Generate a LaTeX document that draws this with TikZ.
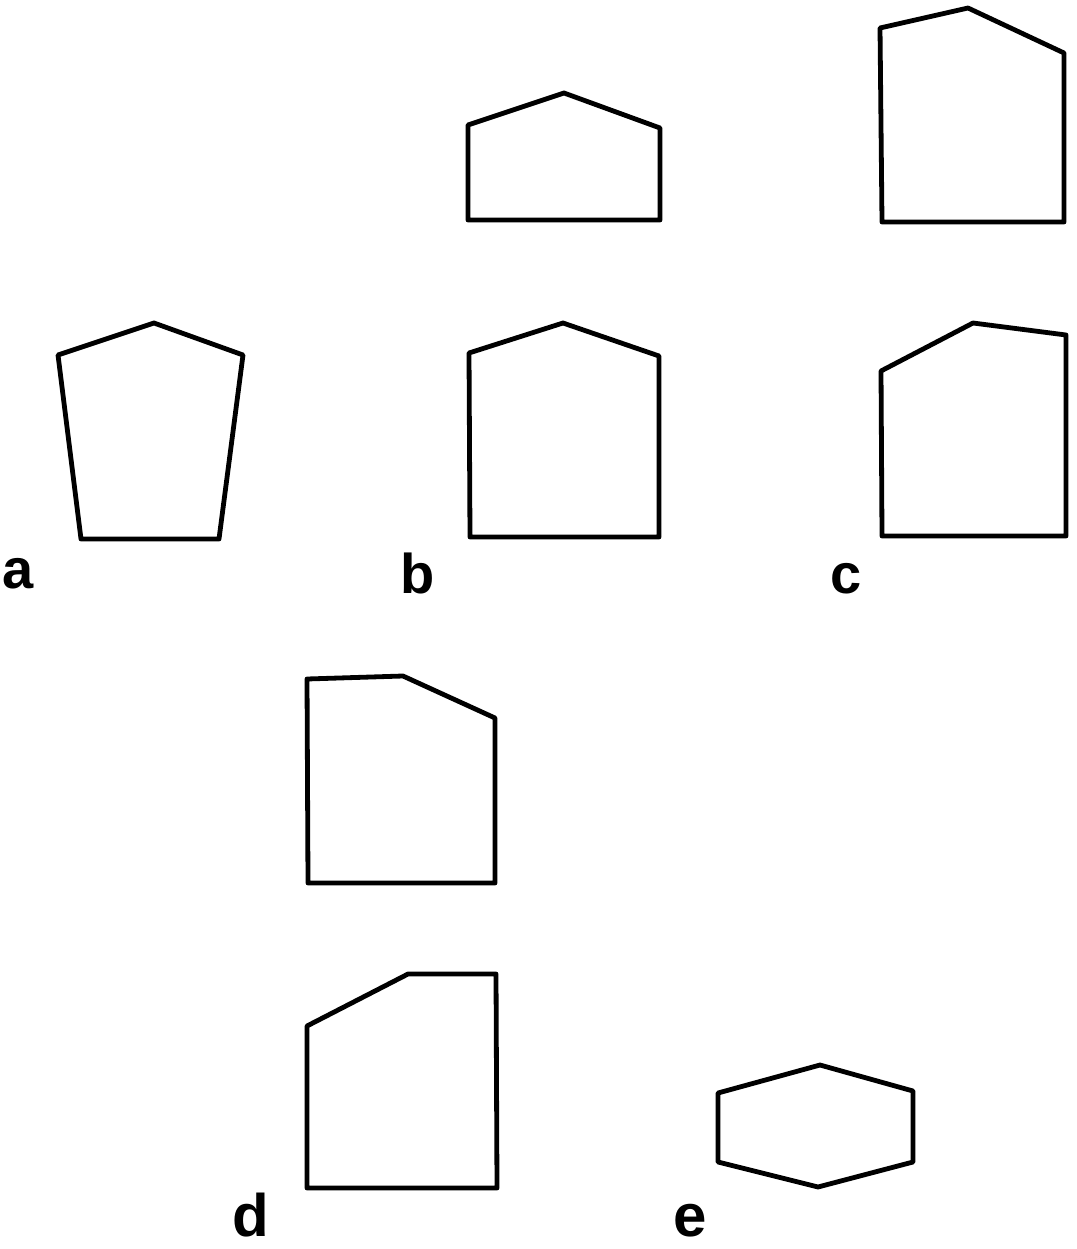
\documentclass[tikz,border=0pt]{standalone}
\usepackage{fontspec}
\setmainfont{Liberation Sans}
\usetikzlibrary{positioning}

\begin{document}
\begin{tikzpicture}[x=1pt,y=-1pt,outline/.style={line width=4.8pt,line join=round},
  lbl/.style={anchor=base west,inner sep=0pt,font=\fontsize{56}{62}\selectfont\bfseries},
  biglbl/.style={lbl,font=\fontsize{60}{66}\selectfont\bfseries}]
\useasboundingbox (0,0) rectangle (1076,1249);
% row 1
\draw[outline] (468,125)--(564,93)--(660,128)--(660,220)--(468,220)--cycle;
\draw[outline] (880,28)--(968,8)--(1064,53)--(1064,222)--(882,222)--cycle;
% row 2
\draw[outline] (58,355)--(154,323)--(243,355)--(219,539)--(81,539)--cycle;
\draw[outline] (469,353)--(563,323)--(659,356)--(659,537)--(470,537)--cycle;
\draw[outline] (881,371)--(973,323)--(1066,335)--(1066,536)--(882,536)--cycle;
\node[lbl] (la) at (2,588) {a};
\node[lbl] (lb) at (400,593) {b};
\node[lbl] (lc) at (830,593) {c};
% d and e
\draw[outline] (307,679)--(403,676)--(495,718)--(495,883)--(308,883)--cycle;
\draw[outline] (307,1026)--(408,974)--(496,974)--(497,1188)--(307,1188)--cycle;
\draw[outline] (718,1093)--(820,1065)--(913,1091)--(913,1162)--(818,1187)--(718,1162)--cycle;
\node[biglbl] (ld) at (232,1236) {d};
\node[biglbl] (le) at (673,1236) {e};
\end{tikzpicture}
\end{document}
